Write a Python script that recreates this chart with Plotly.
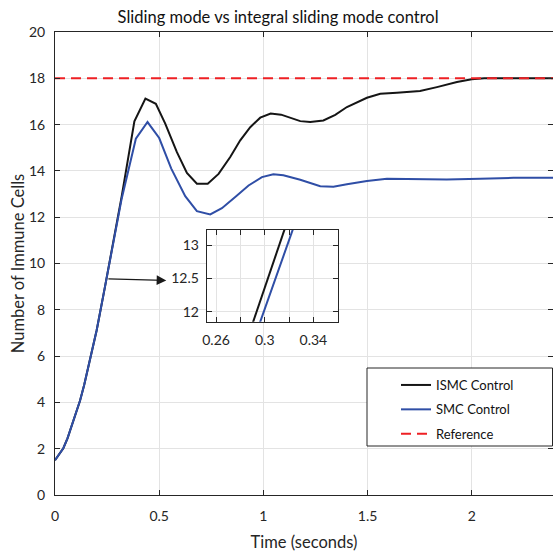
import plotly.graph_objects as go

# ---------------- data ----------------
ismc_t = [0, 0.02, 0.04, 0.06, 0.08, 0.10, 0.12, 0.14, 0.16, 0.18, 0.20, 0.24, 0.28,
          0.32, 0.381, 0.434, 0.484,
          0.529, 0.585, 0.633, 0.681, 0.733, 0.785, 0.841, 0.889, 0.937, 0.985,
          1.035, 1.085, 1.129, 1.177, 1.225, 1.288, 1.345, 1.401, 1.497, 1.561,
          1.641, 1.752, 1.833, 1.929, 2.0, 2.06, 2.2, 2.39]
ismc_y = [1.5, 1.74, 2.02, 2.45, 2.98, 3.5, 4.07, 4.75, 5.5, 6.3, 7.12, 9.0, 10.9,
          12.9, 16.14, 17.12, 16.90,
          16.04, 14.81, 13.91, 13.45, 13.45, 13.87, 14.60, 15.32, 15.89, 16.30,
          16.48, 16.43, 16.30, 16.15, 16.11, 16.18, 16.42, 16.76, 17.16, 17.33,
          17.38, 17.45, 17.62, 17.84, 17.96, 18.0, 18.0, 18.0]

smc_t = [0, 0.02, 0.04, 0.06, 0.08, 0.10, 0.12, 0.14, 0.16, 0.18, 0.20, 0.24, 0.28,
         0.32, 0.388, 0.444, 0.50,
         0.558, 0.625, 0.681, 0.745, 0.801, 0.865, 0.929, 0.993, 1.048, 1.096,
         1.177, 1.273, 1.336, 1.401, 1.497, 1.593, 1.72, 1.88, 2.04, 2.2, 2.39]
smc_y = [1.5, 1.74, 2.02, 2.45, 2.98, 3.5, 4.07, 4.75, 5.5, 6.3, 7.12, 9.0, 10.9,
         12.8, 15.39, 16.11, 15.42,
         14.10, 12.91, 12.26, 12.12, 12.39, 12.87, 13.37, 13.73, 13.85, 13.81,
         13.62, 13.34, 13.32, 13.42, 13.56, 13.66, 13.65, 13.63, 13.66, 13.70, 13.70]

ref_t = [0, 2.39]
ref_y = [18, 18]

# zoomed detail shown in the inset
zoom_t = [0.28, 0.33]
zoom_ismc = [11.285, 13.97]
zoom_smc = [11.007, 13.59]

main_xticks = [0, 0.5, 1, 1.5, 2]
main_yticks = list(range(0, 21, 2))
inset_xticks = [0.26, 0.28, 0.30, 0.32, 0.34, 0.36]
inset_xlabels = ["0.26", "", "0.3", "", "0.34", ""]
inset_yticks = [12, 12.5, 13]

arrow_from = (0.249, 9.34)
arrow_to = (0.534, 9.27)

# ---------------- styles ----------------
FONT = "Lato, Roboto, sans-serif"
AX = "#262626"
GRID = "#e3e3e3"
BLACK = "#151515"
BLUE = "#2f4ea6"
RED = "#ee2024"

fig = go.Figure()
fig.add_trace(go.Scatter(x=ismc_t, y=ismc_y, mode="lines", name="ISMC Control",
                         line=dict(color=BLACK, width=2), legendgroup="a"))
fig.add_trace(go.Scatter(x=smc_t, y=smc_y, mode="lines", name="SMC Control",
                         line=dict(color=BLUE, width=2), legendgroup="b"))
fig.add_trace(go.Scatter(x=ref_t, y=ref_y, mode="lines", name="Reference",
                         line=dict(color=RED, width=2, dash="10px,6px"), legendgroup="c"))

# inset traces
fig.add_trace(go.Scatter(x=zoom_t, y=zoom_ismc, mode="lines", xaxis="x2", yaxis="y2",
                         line=dict(color=BLACK, width=2), showlegend=False))
fig.add_trace(go.Scatter(x=zoom_t, y=zoom_smc, mode="lines", xaxis="x2", yaxis="y2",
                         line=dict(color=BLUE, width=2), showlegend=False))

common = dict(showline=True, linecolor=AX, linewidth=1, mirror="ticks",
              ticks="inside", ticklen=5, tickcolor=AX, tickwidth=1,
              showgrid=True, gridcolor=GRID, gridwidth=1, zeroline=False,
              tickfont=dict(family=FONT, size=14, color=AX))

fig.update_layout(
    width=553, height=552,
    margin=dict(l=55, r=0, t=32, b=57),
    paper_bgcolor="white", plot_bgcolor="white",
    font=dict(family=FONT, color=AX),
    title=dict(text="Sliding mode vs integral sliding mode control",
               x=0.448, xref="paper", xanchor="center",
               y=1 - 17 / 552, yanchor="middle",
               font=dict(family=FONT, size=16.5, color="#111")),
    xaxis=dict(range=[0, 2.39], tickvals=main_xticks, ticklabelstandoff=8,
               title=dict(text="Time (seconds)", font=dict(family=FONT, size=16.5, color=AX),
                          standoff=14),
               **common),
    yaxis=dict(range=[0, 20], tickvals=main_yticks, ticklabelstandoff=6,
               title=dict(text="Number of Immune Cells", font=dict(family=FONT, size=16.5, color=AX),
                          standoff=0),
               **common),
    xaxis2=dict(domain=[0.3046, 0.5677], anchor="y2", range=[0.2523, 0.36],
                tickvals=inset_xticks, ticktext=inset_xlabels, ticklabelstandoff=6,
                **common),
    yaxis2=dict(domain=[0.3743, 0.573], anchor="x2", range=[11.85, 13.23],
                tickvals=inset_yticks, ticklabelstandoff=4,
                **common),
    showlegend=True,
    legend=dict(x=(396 - 55) / 498, xanchor="left", y=(495 - 370) / 463, yanchor="top",
                bgcolor="rgba(0,0,0,0)", borderwidth=0, tracegroupgap=4.5,
                font=dict(family=FONT, size=13, color="#111")),
)

# white background for the inset (hides main grid lines under it)
fig.add_shape(type="rect", xref="x2 domain", yref="y2 domain", x0=0, x1=1, y0=0, y1=1,
              fillcolor="white", line=dict(width=0), layer="below")
# legend frame
fig.add_shape(type="rect", xref="paper", yref="paper",
              x0=(367 - 55) / 498, x1=(552.5 - 55) / 498,
              y0=(495 - 446) / 463, y1=(495 - 368) / 463,
              fillcolor="white", line=dict(color=AX, width=1), layer="above")

fig.add_annotation(x=arrow_to[0], y=arrow_to[1], ax=arrow_from[0], ay=arrow_from[1],
                   xref="x", yref="y", axref="x", ayref="y", text="",
                   showarrow=True, arrowhead=2, arrowsize=1.6, arrowwidth=1.2,
                   arrowcolor="#1a1a1a", standoff=0)

fig.write_html("out.html")
